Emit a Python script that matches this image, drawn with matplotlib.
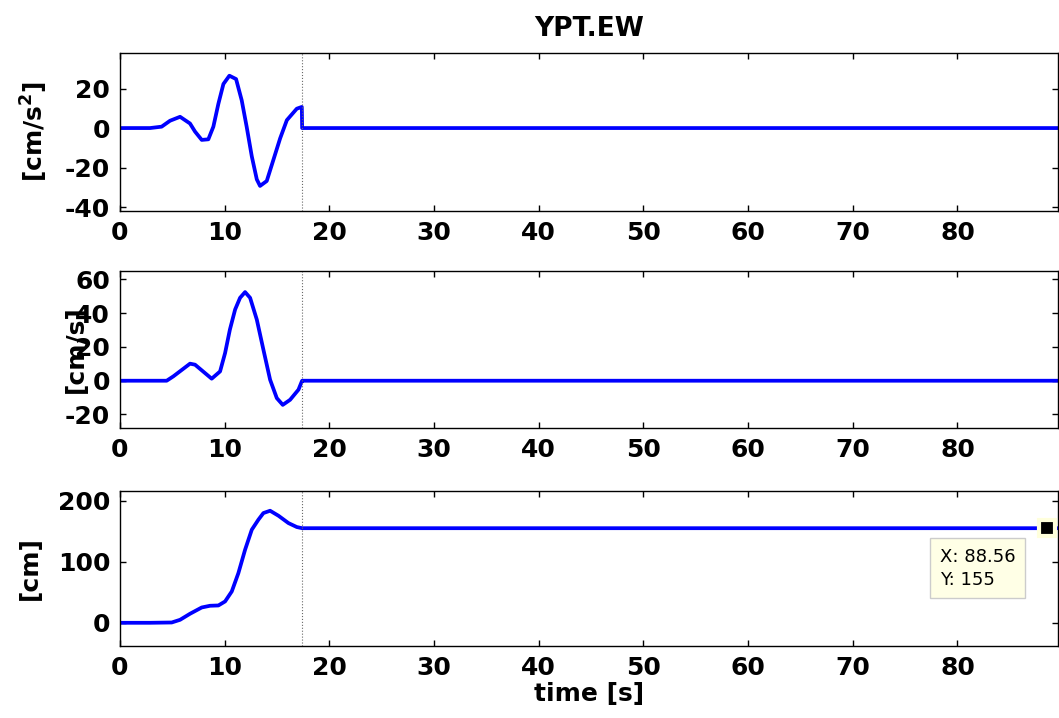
import matplotlib
matplotlib.use('Agg')
import matplotlib.pyplot as plt

# values
t_acc = [0, 2.87, 3.98, 4.78, 5.74, 6.69, 7.17, 7.81, 8.44, 8.92, 9.4, 9.88, 10.45, 11.09, 11.63,
         12.1, 12.59, 13.07, 13.38, 14.02, 14.66, 15.3, 15.94, 16.89, 17.37, 17.4, 89.6]
acc = [0, 0, 0.7, 3.7, 5.7, 2.3, -1.8, -6, -5.7, 0.7, 12.3, 22.3, 26.5, 24.8, 14,
       0.7, -14.3, -26, -29.3, -26.8, -16, -5.2, 4, 9.8, 10.7, 0, 0]

t_vel = [0, 4.46, 5.1, 6.69, 7.17, 8.76, 9.56, 10.04, 10.5, 11.0, 11.47, 11.95, 12.43, 13.07,
         13.7, 14.34, 14.98, 15.55, 16.25, 17.05, 17.37, 17.4, 89.6]
vel = [0, 0, 2.6, 10.1, 9.5, 1.2, 5.5, 16.4, 30.3, 42.2, 49.1, 52.5, 49.1, 36.2,
       18.4, 0.6, -10.3, -14.3, -11.3, -5.3, -0.4, 0, 0]

t_dis = [0, 2.87, 4.94, 5.74, 6.69, 7.81, 8.6, 9.4, 10.04, 10.68, 11.31, 11.95, 12.59, 13.22,
         13.7, 14.34, 15.14, 16.09, 16.89, 17.4, 89.6]
dis = [0, 0, 0.5, 4.9, 14.8, 25.1, 27.9, 28.4, 35, 51.4, 81.4, 119.7, 152.5, 168.9,
       179.8, 183.6, 175.4, 163.4, 156.9, 155, 155]

t_cut = 17.4
tip_x, tip_y = 88.56, 155
xticks = [0, 10, 20, 30, 40, 50, 60, 70, 80]

plt.rcParams['font.family'] = ['DejaVu Sans']
plt.rcParams['font.weight'] = 'bold'
plt.rcParams['font.size'] = 18
plt.rcParams['mathtext.default'] = 'bf'
plt.rcParams['axes.unicode_minus'] = False

fig = plt.figure(figsize=(10.59, 7.18), dpi=100)
left, width = 0.1133, 0.8857
ax1 = fig.add_axes([left, 0.7061, width, 0.2201])
ax2 = fig.add_axes([left, 0.4039, width, 0.2187])
ax3 = fig.add_axes([left, 0.1003, width, 0.2159])

panels = [
    (ax1, t_acc, acc, (-42, 38), [-40, -20, 0, 20], r'[cm/s$^2$]', -0.075),
    (ax2, t_vel, vel, (-28, 65), [-20, 0, 20, 40, 60], '[cm/s]', -0.034),
    (ax3, t_dis, dis, (-38, 216), [0, 100, 200], '[cm]', -0.083),
]
for ax, t, y, ylim, yt, lab, lx in panels:
    ax.plot(t, y, color='blue', lw=2.7)
    ax.axvline(t_cut, color='dimgray', lw=0.8, ls=':')
    ax.set_xlim(0, 89.6)
    ax.set_ylim(*ylim)
    ax.set_xticks(xticks)
    ax.set_yticks(yt)
    ax.tick_params(direction='in', length=4, width=1, top=True, right=True, pad=7)
    for s in ax.spines.values():
        s.set_linewidth(1)
    ax.set_ylabel(lab, fontweight='bold')
    ax.yaxis.set_label_coords(lx, 0.5)

ax1.set_title('YPT.EW', fontweight='bold', fontsize=19, pad=12)
ax3.set_xlabel('time [s]', fontweight='bold', labelpad=2)

# data tip
ax3.plot([tip_x], [tip_y], marker='s', ms=12, color='black', mec='#ffffdc', mew=3, zorder=5)
ax3.text(0.874, 0.63, 'X: %.2f\nY: %d' % (tip_x, tip_y), transform=ax3.transAxes,
         fontsize=13, fontweight='normal', va='top', ha='left', linespacing=1.3,
         bbox=dict(boxstyle='square,pad=0.55', fc='#ffffe6', ec='#cccccc', lw=1))

fig.savefig('out.png', dpi=100)
